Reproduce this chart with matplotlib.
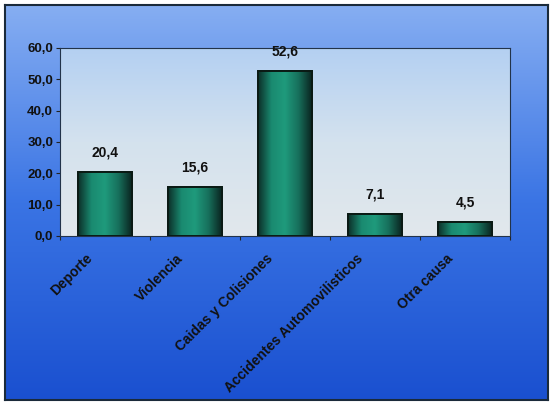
import numpy as np
import matplotlib
matplotlib.use('Agg')
import matplotlib.pyplot as plt
from matplotlib import colors, patches

plt.rcParams['font.family'] = ['Liberation Sans', 'DejaVu Sans']
plt.rcParams['font.weight'] = 'bold'

categories = ['Deporte', 'Violencia', 'Caidas y Colisiones',
              'Accidentes Automovilisticos', 'Otra causa']
values = [20.4, 15.6, 52.6, 7.1, 4.5]
yticks = [0, 10, 20, 30, 40, 50, 60]

W, H = 553, 405
fig = plt.figure(figsize=(W / 100, H / 100), dpi=100)
fig.patch.set_facecolor('white')

# outer panel with vertical blue gradient
bg = fig.add_axes([5 / W, 5 / H, 543 / W, 395 / H])
bg.set_xlim(0, 1); bg.set_ylim(0, 1)
grad = np.linspace(0, 1, 256).reshape(-1, 1)
bg_cmap = colors.LinearSegmentedColormap.from_list('bg', ['#1a50d0', '#3a74e4', '#86aef2'])
bg.imshow(grad, cmap=bg_cmap, aspect='auto', extent=[0, 1, 0, 1], origin='lower')
bg.set_xticks([]); bg.set_yticks([])
for s in bg.spines.values():
    s.set_color('#1a2a3a'); s.set_linewidth(1.5)

# plot area
ax = fig.add_axes([60 / W, (H - 236) / H, 450 / W, 188 / H])
pa_cmap = colors.LinearSegmentedColormap.from_list('pa', ['#e2e8ec', '#d4e2ee', '#b4d0f2'])
ax.imshow(grad, cmap=pa_cmap, aspect='auto', extent=[-0.5, 4.5, 0, 60],
          origin='lower', zorder=0)
x = np.arange(len(categories))
bars = ax.bar(x, values, width=0.6, color='#1a7a64', edgecolor='#0a1a14',
              linewidth=1.2, zorder=2)
bar_cmap = colors.LinearSegmentedColormap.from_list(
    'bar', ['#0c2e28', '#1a8a70', '#1f9a7c', '#17705c', '#0a2420'])
hgrad = np.linspace(0, 1, 256).reshape(1, -1)
for b in bars:
    im = ax.imshow(hgrad, cmap=bar_cmap, aspect='auto',
                   extent=[b.get_x(), b.get_x() + b.get_width(), 0, b.get_height()],
                   zorder=2.5)
    im.set_clip_path(b)
    ax.add_patch(patches.Rectangle((b.get_x(), 0), b.get_width(), b.get_height(),
                                   fill=False, edgecolor='#0a1a14', lw=1.4, zorder=3))
for xi, v in zip(x, values):
    ax.text(xi, v + 4.0, f'{v:.1f}'.replace('.', ','), ha='center', va='bottom',
            fontsize=10, fontweight='bold', color='#111111')

ax.set_xlim(-0.5, 4.5)
ax.set_ylim(0, 60)
ax.set_yticks(yticks)
ax.set_yticklabels([f'{t:.1f}'.replace('.', ',') for t in yticks],
                   fontsize=9.5, fontweight='bold', color='#111111')
ax.set_xticks(np.arange(-0.5, 5, 1), minor=False)
ax.set_xticklabels([])
ax.tick_params(axis='x', direction='out', length=3, color='#222222')
ax.tick_params(axis='y', direction='out', length=3, color='#222222', pad=2)
for s in ax.spines.values():
    s.set_color('#22334a'); s.set_linewidth(0.8)

for xi, c in zip(x, categories):
    ax.annotate(c, xy=(xi, 0), xycoords='data', xytext=(-14, -11),
                textcoords='offset points', rotation=45, ha='right', va='top',
                rotation_mode='anchor', fontsize=10, fontweight='bold',
                color='#111111')

fig.savefig('out.png', dpi=100)
